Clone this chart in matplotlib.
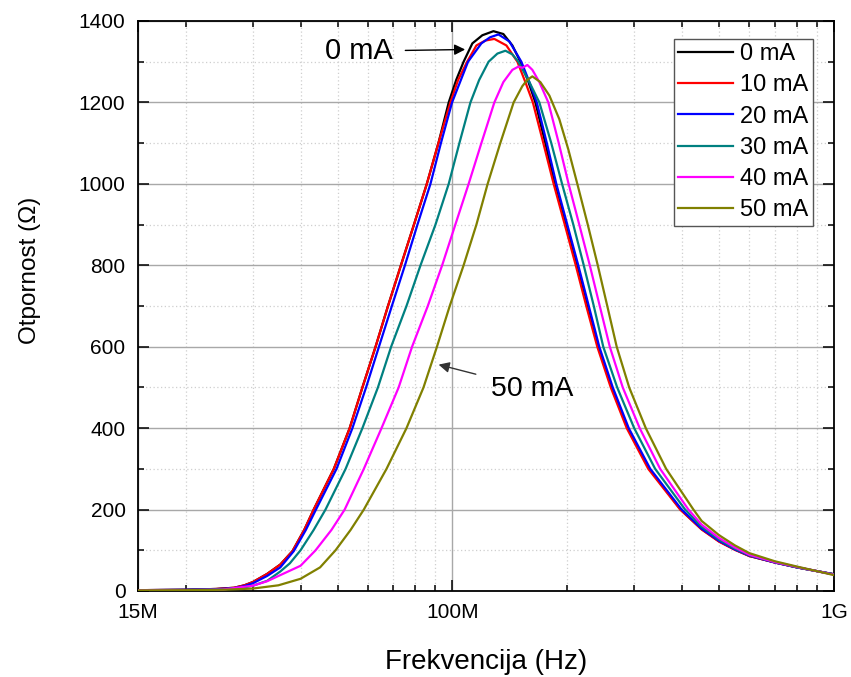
import matplotlib
matplotlib.use("Agg")
import matplotlib.pyplot as plt
from matplotlib.ticker import FixedLocator, NullFormatter
import numpy as np

plt.rcParams['font.family'] = ['Liberation Sans', 'DejaVu Sans']

# Resistance vs frequency for several bias currents (frequency in MHz, resistance in ohm)
f_0mA = [15, 20, 24, 26.8, 28.5, 30, 32.7, 35.4, 38.1, 40.9, 43.3, 48.9, 53.8, 58.1, 62.9, 67.8,
         73.3, 79.3, 85.7, 91.9, 97.8, 102.3, 107.0, 112.8, 119.8, 128.1, 136.0, 143.6, 150.7,
         157.6, 165.0, 175.2, 185.3, 198.2, 211.8, 225.6, 241.1, 261.6, 288.0, 328.0, 396.4,
         450, 500, 550, 600, 700, 800, 900, 1000]
r_0mA = [2, 3, 5, 8, 14, 22, 42, 65, 98, 150, 200, 300, 400, 500, 600, 700,
         800, 900, 1000, 1100, 1200, 1255, 1300, 1345, 1365, 1375, 1368, 1340, 1300,
         1255, 1200, 1100, 1000, 900, 800, 700, 600, 500, 400, 300, 200,
         152, 122, 102, 86, 70, 58, 49, 41]

f_10mA = [15, 20, 24, 26.8, 28.5, 30, 32.7, 35.4, 38.1, 40.9, 43.3, 48.9, 53.8, 58.1, 62.9, 67.8,
          73.3, 79.3, 85.7, 91.9, 98.8, 103.5, 109.3, 115.6, 122.0, 128.8, 138.5, 148.0, 155.3,
          162.5, 173.1, 184.2, 197.0, 210.5, 224.3, 239.7, 260.0, 286.3, 326.0, 395.3,
          450, 500, 550, 600, 700, 800, 900, 1000]
r_10mA = [2, 3, 5, 8, 14, 22, 42, 65, 98, 150, 200, 300, 400, 500, 600, 700,
          800, 900, 1000, 1100, 1200, 1255, 1300, 1340, 1352, 1356, 1340, 1300, 1250,
          1200, 1100, 1000, 900, 800, 700, 600, 500, 400, 300, 200,
          151, 121, 101, 86, 70, 58, 49, 41]

f_20mA = [15, 20, 24, 26.8, 28.5, 30, 32.7, 35.4, 38.4, 41.3, 43.9, 49.7, 54.7, 59.4, 64.2, 69.4,
          75.1, 81.0, 87.6, 93.3, 99.8, 109.9, 119.1, 125.5, 132.0, 141.0, 151.6, 159.1,
          166.4, 176.8, 187.2, 200.0, 213.7, 227.7, 242.6, 263.2, 289.8, 330.0, 398.8,
          450, 500, 550, 600, 700, 800, 900, 1000]
r_20mA = [2, 3, 4.5, 7, 12, 19, 37, 58, 98, 150, 200, 300, 400, 500, 600, 700,
          800, 900, 1000, 1100, 1200, 1300, 1345, 1360, 1367, 1350, 1300, 1250,
          1200, 1100, 1000, 900, 800, 700, 600, 500, 400, 300, 200,
          153, 123, 102, 87, 70, 58, 49, 41]

f_30mA = [15, 20, 25, 28.5, 30, 32.7, 35.4, 37.5, 40.0, 43.3, 46.5, 52.5, 58.1, 63.8, 69.1, 75.8,
          82.5, 90.3, 97.8, 104.3, 111.5, 117.5, 124.4, 131.2, 137.7, 143.6, 148.9, 159.1,
          169.0, 181.6, 193.8, 207.4, 220.9, 234.7, 248.5, 270.3, 299.5, 339.9, 407.3,
          450, 500, 550, 600, 700, 800, 900, 1000]
r_30mA = [2, 2.5, 4, 9, 13, 25, 48, 68, 100, 150, 200, 300, 400, 500, 600, 700,
          800, 900, 1000, 1100, 1200, 1255, 1300, 1320, 1327, 1318, 1300, 1250,
          1200, 1100, 1000, 900, 800, 700, 600, 500, 400, 300, 200,
          158, 126, 104, 88, 71, 58, 49, 41]

f_40mA = [15, 20, 25, 30, 32.7, 35.4, 40, 43.8, 48.2, 52.2, 58.6, 65.2, 72.3, 78.4, 86.2, 94.0,
          101.8, 110.3, 119.1, 128.8, 136.0, 143.6, 148.9, 152.5, 157.2, 162.0, 169.0, 178.4,
          190.0, 201.6, 215.0, 229.1, 243.3, 258.5, 279.5, 309.6, 350.3, 415.5,
          450, 500, 550, 600, 700, 800, 900, 1000]
r_40mA = [1.5, 2, 3.5, 13, 24, 39, 62, 100, 150, 200, 300, 400, 500, 600, 700, 800,
          900, 1000, 1100, 1200, 1250, 1280, 1288, 1285, 1292, 1280, 1250, 1200,
          1100, 1000, 900, 800, 700, 600, 500, 400, 300, 200,
          163, 130, 107, 89, 71, 59, 49, 40]

f_50mA = [15, 20, 25, 30, 35, 40, 45, 49.4, 54.1, 58.6, 67.2, 75.8, 84.0, 91.1, 98.4, 107.0,
          115.6, 123.7, 133.5, 144.7, 152.5, 157.0, 162.0, 170.0, 179.5, 190.6, 201.2, 212.5,
          226.3, 240.4, 254.6, 269.5, 290.6, 321.2, 363.2, 428.2,
          450, 500, 550, 600, 700, 800, 900, 1000]
r_50mA = [1.5, 2, 3, 6, 14, 30, 58, 100, 150, 200, 300, 400, 500, 600, 700, 800,
          900, 1000, 1100, 1200, 1240, 1255, 1264, 1250, 1217, 1159, 1085, 1000,
          900, 800, 700, 600, 500, 400, 300, 200,
          172, 137, 112, 93, 73, 60, 49, 39]

labels = ['0 mA', '10 mA', '20 mA', '30 mA', '40 mA', '50 mA']
colors = ['#000000', '#ff0000', '#0000ff', '#008080', '#ff00ff', '#808000']
freqs = [f_0mA, f_10mA, f_20mA, f_30mA, f_40mA, f_50mA]
resist = [r_0mA, r_10mA, r_20mA, r_30mA, r_40mA, r_50mA]

x_major = [15e6, 100e6, 1e9]
x_major_labels = ['15M', '100M', '1G']
x_minor = [v * 1e6 for v in (20, 30, 40, 50, 60, 70, 80, 90, 200, 300, 400, 500, 600, 700, 800, 900)]

fig = plt.figure(figsize=(8.51, 6.77), dpi=100)
W, H = 851, 677
ax = fig.add_axes([138 / W, 1 - 591 / H, (834 - 138) / W, (591 - 21) / H])

for f, r, lab, c in zip(freqs, resist, labels, colors):
    ax.plot(np.array(f) * 1e6, r, color=c, lw=1.6, label=lab, zorder=3,
            solid_joinstyle='round')

ax.set_xscale('log')
ax.set_xlim(15e6, 1e9)
ax.set_ylim(0, 1400)

ax.xaxis.set_major_locator(FixedLocator(x_major))
ax.set_xticklabels(x_major_labels)
ax.xaxis.set_minor_locator(FixedLocator(x_minor))
ax.xaxis.set_minor_formatter(NullFormatter())
ax.set_yticks(np.arange(0, 1401, 200))
ax.set_yticks(np.arange(100, 1400, 200), minor=True)

ax.grid(which='major', color='#a8a8a8', lw=1.0, ls='-', zorder=0)
ax.grid(which='minor', color='#cfcfcf', lw=0.9, ls=(0, (1, 2)), zorder=0)

ax.tick_params(which='both', direction='in', top=True, right=True, width=1.1, labelsize=15)
ax.tick_params(which='major', length=8, pad=9)
ax.tick_params(which='minor', length=4.5)
for sp in ax.spines.values():
    sp.set_linewidth(1.3)

ax.set_xlabel('Frekvencija (Hz)', fontsize=20)
ax.set_ylabel('Otpornost (\u03a9)', fontsize=17.5)
ax.xaxis.set_label_coords(0.5, -0.102)
ax.yaxis.set_label_coords(-0.14, 0.563)

leg = ax.legend(loc='upper right', bbox_to_anchor=(813 / W, 1 - 39 / H),
                bbox_transform=fig.transFigure, borderaxespad=0, fontsize=17,
                fancybox=False, framealpha=1, edgecolor='#555555',
                handlelength=2.35, handletextpad=0.3, labelspacing=0.39,
                borderpad=0.18)
leg.get_frame().set_linewidth(1.0)

ax.annotate('0 mA', xy=(108e6, 1330), xytext=(69.8e6, 1326),
            ha='right', va='center', fontsize=21,
            arrowprops=dict(arrowstyle='-|>', color='black', lw=1.0,
                            shrinkA=7, shrinkB=0, mutation_scale=16))
ax.annotate('50 mA', xy=(92e6, 556), xytext=(126e6, 497),
            ha='left', va='center', fontsize=20.5,
            arrowprops=dict(arrowstyle='-|>', color='#333333', lw=1.0,
                            shrinkA=9, shrinkB=0, mutation_scale=16))

fig.savefig('out.png', dpi=100)
